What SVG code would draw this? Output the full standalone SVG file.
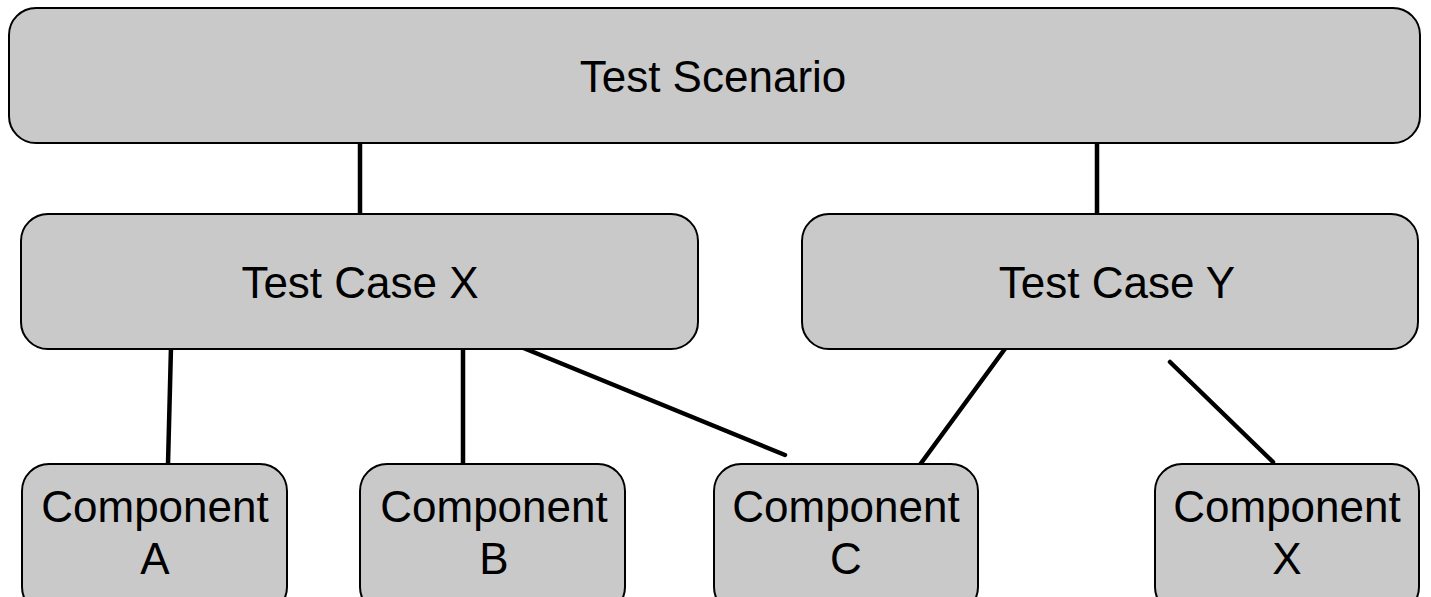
<svg xmlns="http://www.w3.org/2000/svg" width="1431" height="597" viewBox="0 0 1431 597">
<style>
.box{fill:#c9c9c9;stroke:#000;stroke-width:2}
.lbl{font-family:"Liberation Sans",Arial,sans-serif;font-size:44px;fill:#000;text-anchor:middle}
.conn line{stroke:#000;stroke-width:4.5;stroke-linecap:round}
</style>
<rect width="1431" height="597" fill="#fff"/>
<g id="connectors" class="conn">
<line x1="360" y1="143" x2="360" y2="214"/>
<line x1="1097" y1="143" x2="1097" y2="214"/>
<line x1="171" y1="347" x2="168" y2="464"/>
<line x1="463" y1="347" x2="463" y2="463"/>
<line x1="521" y1="347" x2="785" y2="455"/>
<line x1="1007" y1="346" x2="919" y2="466"/>
<line x1="1170" y1="362" x2="1273" y2="462"/>
</g>
<g id="test-scenario">
<rect class="box" x="9" y="8" width="1411" height="135" rx="27"/>
<text class="lbl" x="713" y="92">Test Scenario</text>
</g>
<g id="test-case-x">
<rect class="box" x="21" y="214" width="677" height="135" rx="27"/>
<text class="lbl" x="360" y="298">Test Case X</text>
</g>
<g id="test-case-y">
<rect class="box" x="802" y="214" width="616" height="135" rx="27"/>
<text class="lbl" x="1117" y="298">Test Case Y</text>
</g>
<g id="component-a">
<rect class="box" x="22" y="464" width="265" height="150" rx="27"/>
<text class="lbl" x="155" y="522">Component</text>
<text class="lbl" x="155" y="574">A</text>
</g>
<g id="component-b">
<rect class="box" x="360" y="464" width="265" height="150" rx="27"/>
<text class="lbl" x="494" y="522">Component</text>
<text class="lbl" x="494" y="574">B</text>
</g>
<g id="component-c">
<rect class="box" x="714" y="464" width="264" height="150" rx="27"/>
<text class="lbl" x="846" y="522">Component</text>
<text class="lbl" x="846" y="574">C</text>
</g>
<g id="component-x">
<rect class="box" x="1155" y="464" width="264" height="150" rx="27"/>
<text class="lbl" x="1287" y="522">Component</text>
<text class="lbl" x="1287" y="574">X</text>
</g>
</svg>
